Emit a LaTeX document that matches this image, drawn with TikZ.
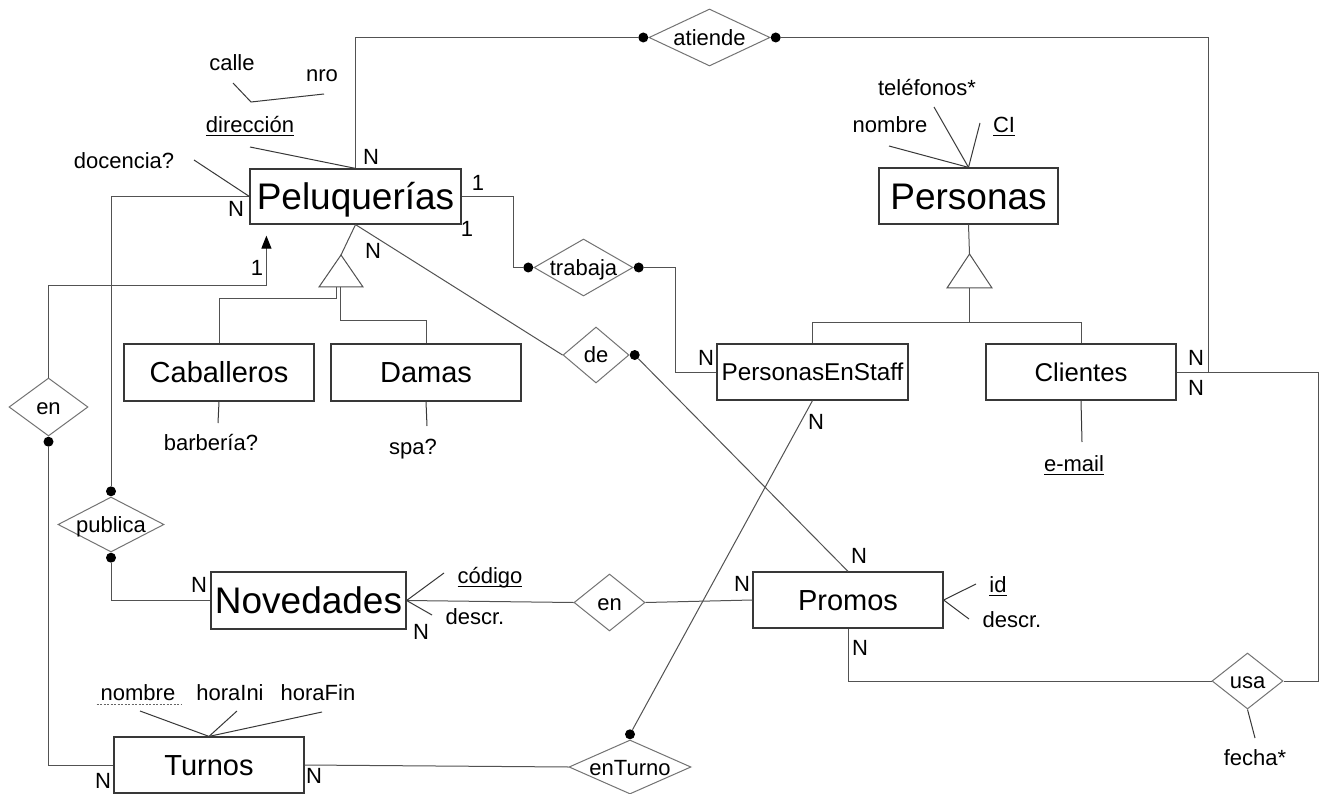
\documentclass[tikz,border=0pt]{standalone}
\usepackage{fontspec}
\setmainfont{Liberation Sans}
\usetikzlibrary{arrows.meta,shapes.geometric,calc}

% font sizes used in the ER schema
\newcommand{\ERbig}{\fontsize{37}{40}\selectfont}
\newcommand{\ERmid}{\fontsize{29}{32}\selectfont}
\newcommand{\ERcli}{\fontsize{25.7}{28}\selectfont}
\newcommand{\ERpes}{\fontsize{24.3}{27}\selectfont}
\newcommand{\ERsml}{\fontsize{22}{25}\selectfont}
% key attribute: solid underline a little below the baseline
\newcommand{\ERul}[1]{\setbox0\hbox{#1}\rlap{\vrule width\wd0 height -2.2pt depth 3.4pt}\box0}

\tikzset{
  ent/.style={rectangle, draw=black!78, line width=1.2pt, inner sep=0pt, text depth=0pt},
  entB/.style={ent, font=\ERbig, text height=26.6pt},
  entM/.style={ent, font=\ERmid, text height=20.9pt},
  rel/.style={diamond, draw=black!55, line width=1pt, inner sep=0pt},
  reltext/.style={font=\ERsml, inner sep=0pt, text height=15.8pt, text depth=0pt},
  lbl/.style={font=\ERsml, inner sep=0pt, text height=15.8pt, text depth=0pt},
  card/.style={font=\ERsml, inner sep=0pt, text height=15.8pt, text depth=0pt},
  dot/.style={circle, fill=black, inner sep=0pt, minimum size=10pt},
  conn/.style={draw=black!68, line width=1pt},
  attr/.style={draw=black!78, line width=1pt},
  isa/.style={draw=black!68, line width=1pt},
}

\begin{document}
\begin{tikzpicture}[x=1pt,y=-1pt]
\useasboundingbox (0,0) rectangle (1322,794);
\fill[white] (0,0) rectangle (1322,794);

% ---------- entities ----------
\node[entB, minimum width=211pt, minimum height=55pt] (pel) at (355.5,196.5) {Peluquerías};
\node[entB, minimum width=179pt, minimum height=56pt] (per) at (968.5,196) {Personas};
\node[entM, minimum width=190pt, minimum height=57pt] (cab) at (219,372.5) {Caballeros};
\node[entM, minimum width=190pt, minimum height=57pt] (dam) at (426,372.5) {Damas};
\node[ent, font=\ERpes, text height=17.5pt, minimum width=191pt, minimum height=56pt] (pes) at (812.5,372) {PersonasEnStaff};
\node[ent, font=\ERcli, text height=18.5pt, minimum width=190pt, minimum height=56pt] (cli) at (1081,372) {Clientes};
\node[entB, minimum width=195pt, minimum height=57pt] (nov) at (308.5,600.5) {Novedades};
\node[entM, minimum width=190pt, minimum height=56pt] (pro) at (848,600) {Promos};
\node[entM, minimum width=190pt, minimum height=56pt] (tur) at (209,765) {Turnos};

% ---------- relationships ----------
\node[rel, minimum width=121pt, minimum height=57pt] (atiende) at (709.5,37.5) {};
\node[rel, minimum width=99pt, minimum height=57pt] (trabaja) at (583.5,267.5) {};
\node[rel, minimum width=66pt, minimum height=56pt] (de) at (596,355) {};
\node[rel, minimum width=79pt, minimum height=58pt] (en1) at (48.5,407) {};
\node[rel, minimum width=106pt, minimum height=55pt] (publica) at (111,524.5) {};
\node[rel, minimum width=71pt, minimum height=57pt] (en2) at (609.5,602.5) {};
\node[rel, minimum width=71pt, minimum height=56pt] (usa) at (1247.5,681) {};
\node[rel, minimum width=122pt, minimum height=54pt] (enturno) at (630,767) {};

\node[reltext] (atiende-t) at (atiende) {atiende};
\node[reltext] (trabaja-t) at (trabaja) {trabaja};
\node[reltext] (de-t) at (de) {de};
\node[reltext] (en1-t) at (en1) {en};
\node[reltext] (publica-t) at (publica) {publica};
\node[reltext] (en2-t) at (en2) {en};
\node[reltext] (usa-t) at (usa) {usa};
\node[reltext] (enturno-t) at ([yshift=-1pt]enturno) {enTurno};

% ---------- participation dots ----------
\node[dot, anchor=east]  (atL)  at (atiende.west) {};
\node[dot, anchor=west]  (atR)  at (atiende.east) {};
\node[dot, anchor=east]  (trL)  at (trabaja.west) {};
\node[dot, anchor=west]  (trR)  at (trabaja.east) {};
\node[dot, anchor=west]  (deR)  at (de.east) {};
\node[dot, anchor=north] (en1B) at (en1.south) {};
\node[dot, anchor=south] (pubT) at (publica.north) {};
\node[dot, anchor=north] (pubB) at (publica.south) {};
\node[dot, anchor=south] (etT)  at (enturno.north) {};

% ---------- connectors ----------
\draw[conn] (pel.north) |- (atL);
\draw[conn] (atR) -| ([xshift=32pt]cli.east) -- (cli.east);
\draw[conn] (cli.east) -- ++(142,0) |- (usa.east);
\draw[conn] (pro.south) |- (usa.west);
\draw[conn] (pel.east) -- ++(52,0) |- (trL);
\draw[conn] (pes.west) -- ++(-41,0) |- (trR);
\draw[conn] (pel.south) -- (de.west);
\draw[conn] (deR) -- (pro.north);
\draw[conn, -{Triangle[length=13pt,width=10pt,black]}, shorten >=11pt]
  (en1.north) -- ++(0,-92) -| ([xshift=17pt]pel.south west);
\draw[conn] (en1B) |- (tur.west);
\draw[conn] (pel.west) -| (pubT);
\draw[conn] (pubB) |- (nov.west);
\draw[conn] (nov.east) -- (en2.west);
\draw[conn] (en2.east) -- (pro.west);
\draw[conn] (tur.east) -- (enturno.west);
\draw[conn] (etT) -- (pes.south);

% ---------- generalizations ----------
\coordinate (gA) at (341,255);
\coordinate (gB) at (341,287);
\draw[isa] (gA) -- ++(-22,32) -- ++(44,0) -- cycle;
\draw[isa] (pel.south) -- (gA);
\draw[isa] ([xshift=-5pt]gB) -- ++(0,11) -| (cab.north);
\draw[isa] ([xshift=-1pt]gB) -- ++(0,33) -| (dam.north);

\coordinate (pA) at (969.5,254);
\coordinate (pB) at (969.5,288);
\draw[isa] (pA) -- ++(-22.5,34) -- ++(45,0) -- cycle;
\draw[isa] (per.south) -- (pA);
\draw[isa, line width=1.5pt] (pB) -- ++(0,34);
\draw[isa] (pB) -- ++(0,34) -| (pes.north);
\draw[isa] (pB) -- ++(0,34) -| (cli.north);

% ---------- attributes ----------
% Peluquerías
\node[lbl] (calle) at (232,63) {calle};
\node[lbl] (nro) at (322,74) {nro};
\node[lbl] (dir) at (250,125) {\ERul{dirección}};
\node[lbl] (doc) at (124,161) {docencia?};
\coordinate (cA1) at (233,83);
\coordinate (cA2) at (251,102);
\coordinate (cA3) at (324,94);
\draw[attr] (cA1) -- (cA2) -- (cA3);
\coordinate (dirE) at (250,147);
\coordinate (docE) at (194,160);
\draw[attr] (dirE) -- (pel.north);
\draw[attr] (docE) -- (pel.west);

% Personas
\node[lbl] (tel) at (927,88) {teléfonos*};
\node[lbl] (pnom) at (890,125) {nombre};
\node[lbl] (ci) at (1004,125) {\ERul{CI}};
\coordinate (telE) at (934,107);
\coordinate (pnomE) at (889,146);
\coordinate (ciE) at (980,123);
\draw[attr] (telE) -- (per.north);
\draw[attr] (pnomE) -- (per.north);
\draw[attr] (ciE) -- (per.north);

% Clientes
\node[lbl] (mail) at (1074,464) {\ERul{e-mail}};
\coordinate (mailE) at (1082,442);
\draw[attr] (cli.south) -- (mailE);

% Caballeros / Damas
\node[lbl] (barb) at (211,443) {barbería?};
\node[lbl] (spa) at (413,447) {spa?};
\coordinate (barbE) at (218,423);
\coordinate (spaE) at (427,426);
\draw[attr] (cab.south) -- (barbE);
\draw[attr] (dam.south) -- (spaE);

% Novedades
\node[lbl] (cod) at (490,576) {\ERul{código}};
\node[lbl] (ndesc) at (475,617) {descr.};
\coordinate (codE) at (444,573);
\coordinate (ndescE) at (432,615);
\draw[attr] (nov.east) -- (codE);
\draw[attr] (nov.east) -- (ndescE);

% Promos
\node[lbl] (pid) at (998,585) {\ERul{id}};
\node[lbl] (pdesc) at (1012,620) {descr.};
\coordinate (pidE) at (976,584);
\coordinate (pdescE) at (969,619);
\draw[attr] (pro.east) -- (pidE);
\draw[attr] (pro.east) -- (pdescE);

% Turnos
\node[lbl] (tnom) at (138,693) {nombre};
\node[lbl] (tini) at (230,693) {horaIni};
\node[lbl] (tfin) at (318,693) {horaFin};
\draw[black!60, line width=0.9pt, dash pattern=on 2pt off 1.5pt]
  ([xshift=-4pt,yshift=-3pt]tnom.south west) -- ([xshift=6pt,yshift=-3pt]tnom.south east);
\coordinate (tnomE) at (140,711);
\coordinate (tiniE) at (237,711);
\coordinate (tfinE) at (322,712);
\draw[attr] (tnomE) -- (tur.north);
\draw[attr] (tiniE) -- (tur.north);
\draw[attr] (tfinE) -- (tur.north);

% usa
\node[lbl] (fecha) at (1255,758) {fecha*};
\coordinate (fechaE) at (1255,738);
\draw[attr] (usa.south) -- (fechaE);

% ---------- cardinalities ----------
\node[card] (c1) at (371,157) {N};
\node[card] (c2) at (478,183) {1};
\node[card] (c3) at (467,229) {1};
\node[card] (c4) at (236,209) {N};
\node[card] (c5) at (373,251) {N};
\node[card] (c6) at (257,268) {1};
\node[card] (c7) at (706,358) {N};
\node[card] (c8) at (816,422) {N};
\node[card] (c9) at (1196,358) {N};
\node[card] (c10) at (1196,388) {N};
\node[card] (c11) at (199,585) {N};
\node[card] (c12) at (421,632) {N};
\node[card] (c13) at (742,584) {N};
\node[card] (c14) at (859,556) {N};
\node[card] (c15) at (860,648) {N};
\node[card] (c16) at (103,781) {N};
\node[card] (c17) at (314,776) {N};
\end{tikzpicture}
\end{document}
